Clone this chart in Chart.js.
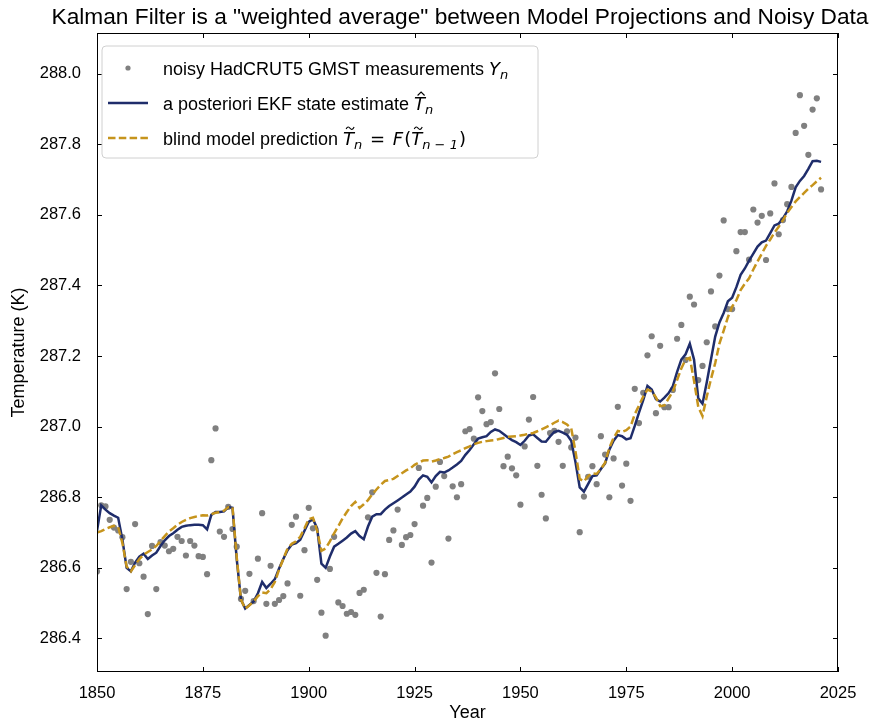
<!DOCTYPE html>
<html>
<head>
<meta charset="utf-8">
<script src="https://cdn.jsdelivr.net/npm/chart.js@4.4.1/dist/chart.umd.min.js"></script>
<style>
  html, body { margin: 0; padding: 0; background: #fff; }
</style>
</head>
<body>
<canvas id="kalmanChart" width="880" height="724"></canvas>
<script>
// ===============================
// data
// ===============================
const firstYear = 1850;

// noisy HadCRUT5 GMST measurements (K), 1850..2021
const measurements = [
  286.590, 286.777, 286.774, 286.736, 286.714, 286.706, 286.687, 286.540, 286.617, 286.724,
  286.613, 286.575, 286.469, 286.662, 286.540, 286.673, 286.663, 286.647, 286.654, 286.688,
  286.676, 286.635, 286.676, 286.663, 286.633, 286.631, 286.582, 286.905, 286.995, 286.703,
  286.688, 286.773, 286.710, 286.660, 286.512, 286.535, 286.583, 286.506, 286.626, 286.755,
  286.498, 286.606, 286.498, 286.509, 286.520, 286.556, 286.722, 286.745, 286.521, 286.650,
  286.770, 286.712, 286.566, 286.473, 286.408, 286.597, 286.688, 286.502, 286.492, 286.470,
  286.475, 286.467, 286.529, 286.538, 286.743, 286.814, 286.586, 286.462, 286.582, 286.679,
  286.706, 286.765, 286.665, 286.687, 286.693, 286.724, 286.883, 286.776, 286.798, 286.615,
  286.830, 286.900, 286.860, 286.683, 286.831, 286.800, 286.837, 286.987, 286.993, 286.966,
  287.083, 287.044, 287.007, 287.013, 287.151, 287.050, 286.888, 286.915, 286.882, 286.862,
  286.779, 286.944, 287.020, 287.084, 286.889, 286.807, 286.740, 286.982, 286.988, 286.957,
  286.889, 286.987, 286.941, 286.969, 286.701, 286.802, 286.858, 286.888, 286.837, 286.973,
  286.921, 286.800, 286.910, 287.056, 286.833, 286.895, 286.790, 287.107, 287.010, 287.096,
  287.202, 287.256, 287.038, 287.229, 287.055, 287.055, 287.104, 287.249, 287.288, 287.189,
  287.368, 287.346, 287.132, 287.172, 287.239, 287.383, 287.284, 287.428, 287.584, 287.333,
  287.333, 287.497, 287.551, 287.551, 287.473, 287.615, 287.578, 287.597, 287.472, 287.604,
  287.689, 287.545, 287.585, 287.630, 287.679, 287.832, 287.939, 287.852, 287.770, 287.898,
  287.930, 287.672
];

// a posteriori EKF state estimate
const ekfEstimate = [
  286.705, 286.777, 286.765, 286.755, 286.748, 286.742, 286.680, 286.600, 286.590, 286.615,
  286.632, 286.640, 286.625, 286.635, 286.643, 286.662, 286.678, 286.690, 286.698, 286.708,
  286.716, 286.719, 286.721, 286.722, 286.722, 286.721, 286.709, 286.750, 286.758, 286.758,
  286.760, 286.772, 286.770, 286.625, 286.510, 286.485, 286.495, 286.505, 286.528, 286.560,
  286.543, 286.555, 286.568, 286.598, 286.625, 286.650, 286.666, 286.670, 286.680, 286.705,
  286.730, 286.738, 286.712, 286.612, 286.600, 286.632, 286.660, 286.668, 286.677, 286.686,
  286.697, 286.704, 286.690, 286.681, 286.717, 286.745, 286.752, 286.752, 286.765, 286.775,
  286.783, 286.791, 286.799, 286.808, 286.816, 286.830, 286.850, 286.862, 286.858, 286.842,
  286.860, 286.872, 286.870, 286.876, 286.884, 286.893, 286.903, 286.920, 286.934, 286.950,
  286.966, 286.970, 286.973, 286.985, 286.992, 286.988, 286.979, 286.970, 286.962, 286.956,
  286.948, 286.960, 286.975, 286.978, 286.968, 286.958, 286.957, 286.972, 286.985, 286.988,
  286.983, 286.977, 286.960, 286.900, 286.828, 286.816, 286.838, 286.860, 286.862, 286.880,
  286.896, 286.935, 286.960, 286.976, 286.973, 286.964, 286.967, 287.002, 287.040, 287.075,
  287.115, 287.105, 287.078, 287.071, 287.082, 287.095, 287.115, 287.155, 287.190, 287.205,
  287.235, 287.190, 287.080, 287.065, 287.125, 287.190, 287.255, 287.295, 287.322, 287.355,
  287.365, 287.395, 287.430, 287.448, 287.470, 287.490, 287.510, 287.522, 287.527, 287.548,
  287.570, 287.575, 287.590, 287.610, 287.640, 287.678, 287.696, 287.710, 287.730, 287.752,
  287.753, 287.750
];

// blind model prediction
const modelPrediction = [
  286.700, 286.704, 286.710, 286.715, 286.719, 286.716, 286.670, 286.604, 286.590, 286.608,
  286.625, 286.637, 286.645, 286.652, 286.662, 286.676, 286.690, 286.703, 286.712, 286.722,
  286.730, 286.736, 286.741, 286.744, 286.747, 286.749, 286.748, 286.752, 286.756, 286.758,
  286.762, 286.772, 286.772, 286.630, 286.510, 286.484, 286.494, 286.505, 286.520, 286.530,
  286.528, 286.540, 286.560, 286.595, 286.625, 286.655, 286.668, 286.675, 286.688, 286.712,
  286.738, 286.742, 286.705, 286.648, 286.655, 286.675, 286.698, 286.718, 286.740, 286.758,
  286.775, 286.787, 286.770, 286.780, 286.792, 286.808, 286.822, 286.835, 286.846, 286.849,
  286.852, 286.860, 286.868, 286.876, 286.882, 286.892, 286.898, 286.904, 286.905, 286.901,
  286.904, 286.908, 286.911, 286.915, 286.922, 286.928, 286.933, 286.939, 286.944, 286.950,
  286.954, 286.957, 286.959, 286.961, 286.962, 286.965, 286.968, 286.971, 286.972, 286.973,
  286.975, 286.977, 286.980, 286.982, 286.987, 286.992, 286.998, 287.004, 287.011, 287.017,
  287.013, 287.006, 286.995, 286.930, 286.852, 286.845, 286.860, 286.868, 286.866, 286.880,
  286.898, 286.940, 286.968, 286.988, 286.985, 286.990, 287.000, 287.035, 287.060, 287.085,
  287.105, 287.100, 287.083, 287.058, 287.060, 287.080, 287.100, 287.132, 287.165, 287.190,
  287.195, 287.130, 287.056, 287.030, 287.085, 287.135, 287.180, 287.235, 287.272, 287.310,
  287.340, 287.358, 287.387, 287.405, 287.420, 287.445, 287.468, 287.490, 287.512, 287.530,
  287.550, 287.566, 287.585, 287.605, 287.622, 287.638, 287.650, 287.662, 287.674, 287.684,
  287.695, 287.705
];

const xTicks = [1850, 1875, 1900, 1925, 1950, 1975, 2000, 2025];
const yTicks = [286.4, 286.6, 286.8, 287.0, 287.2, 287.4, 287.6, 287.8, 288.0];

// ===============================
// styles
// ===============================
const NAVY = "#1f2d6b";
const GOLD = "#c6941c";
const DOT = "#808080";
const TXT = '"Liberation Sans", Arial, sans-serif';
const MATH = '"DejaVu Sans", sans-serif';

function toPoints(arr) {
    return arr.map((v, i) => ({ x: firstYear + i, y: v }));
}

// draws a row of text runs (plain / italic / subscript, with hat or tilde)
function drawRuns(ctx, x, y, runs) {
    for (const r of runs) {
        ctx.font = r.font;
        const w = ctx.measureText(r.t).width;
        ctx.fillText(r.t, x, y + (r.dy || 0));
        if (r.accent) {
            const cx = x + w / 2 + 1.5;
            const top = y - 17;
            ctx.beginPath();
            ctx.lineWidth = 1.1;
            ctx.strokeStyle = "#000";
            if (r.accent === "hat") {
                ctx.moveTo(cx - 3.5, top + 3);
                ctx.lineTo(cx, top - 0.5);
                ctx.lineTo(cx + 3.5, top + 3);
            } else {
                ctx.moveTo(cx - 4, top + 1.5);
                ctx.bezierCurveTo(cx - 2.5, top - 1.5, cx - 1, top - 0.5, cx, top + 0.8);
                ctx.bezierCurveTo(cx + 1, top + 2.2, cx + 2.5, top + 2.8, cx + 4, top - 0.5);
            }
            ctx.stroke();
        }
        x += w + (r.gap || 0);
    }
}

// ===============================
// frame, inward ticks, titles, legend
// ===============================
const decorPlugin = {
    id: "decor",
    afterDraw(chart) {
        const { ctx, chartArea: a, scales } = chart;
        const tl = 5;
        ctx.save();
        ctx.strokeStyle = "#000";
        ctx.lineWidth = 1;
        ctx.strokeRect(a.left + 0.5, a.top + 0.5, a.right - a.left - 1, a.bottom - a.top - 1);

        ctx.beginPath();
        xTicks.forEach(v => {
            const px = Math.round(scales.x.getPixelForValue(v)) + 0.5;
            ctx.moveTo(px, a.bottom); ctx.lineTo(px, a.bottom - tl);
            ctx.moveTo(px, a.top); ctx.lineTo(px, a.top + tl);
        });
        yTicks.forEach(v => {
            const py = Math.round(scales.y.getPixelForValue(v)) + 0.5;
            ctx.moveTo(a.left, py); ctx.lineTo(a.left + tl, py);
            ctx.moveTo(a.right, py); ctx.lineTo(a.right - tl, py);
        });
        ctx.stroke();

        // title + axis titles
        ctx.fillStyle = "#000";
        ctx.textAlign = "center";
        ctx.textBaseline = "middle";
        ctx.font = "22.7px " + TXT;
        ctx.fillText('Kalman Filter is a "weighted average" between Model Projections and Noisy Data', 460, 18);
        ctx.font = "18px " + TXT;
        ctx.fillText("Year", (a.left + a.right) / 2, 713);
        ctx.save();
        ctx.translate(19, (a.top + a.bottom) / 2);
        ctx.rotate(-Math.PI / 2);
        ctx.fillText("Temperature (K)", 0, 0);
        ctx.restore();

        // legend box
        const bx = 102, by = 46, bw = 436, bh = 112, r = 4;
        ctx.beginPath();
        ctx.moveTo(bx + r, by);
        ctx.arcTo(bx + bw, by, bx + bw, by + bh, r);
        ctx.arcTo(bx + bw, by + bh, bx, by + bh, r);
        ctx.arcTo(bx, by + bh, bx, by, r);
        ctx.arcTo(bx, by, bx + bw, by, r);
        ctx.closePath();
        ctx.fillStyle = "rgba(255,255,255,0.8)";
        ctx.fill();
        ctx.lineWidth = 1;
        ctx.strokeStyle = "#d0d0d0";
        ctx.stroke();

        const rows = [68, 103, 138];
        // markers
        ctx.fillStyle = DOT;
        ctx.beginPath();
        ctx.arc(128, rows[0], 2.6, 0, Math.PI * 2);
        ctx.fill();
        ctx.lineWidth = 2.5;
        ctx.strokeStyle = NAVY;
        ctx.beginPath(); ctx.moveTo(108, rows[1]); ctx.lineTo(148, rows[1]); ctx.stroke();
        ctx.strokeStyle = GOLD;
        ctx.setLineDash([7.5, 3.3]);
        ctx.beginPath(); ctx.moveTo(108, rows[2]); ctx.lineTo(148, rows[2]); ctx.stroke();
        ctx.setLineDash([]);

        // legend texts
        ctx.fillStyle = "#000";
        ctx.textAlign = "left";
        ctx.textBaseline = "alphabetic";
        const plain = "18px " + TXT;
        const it = "italic 18px " + MATH;
        const sub = "italic 13px " + MATH;
        const mrm = "18px " + MATH;
        const base = 6.5;
        drawRuns(ctx, 163, rows[0] + base, [
            { t: "noisy HadCRUT5 GMST measurements ", font: plain },
            { t: "Y", font: it },
            { t: "n", font: sub, dy: 4 }
        ]);
        drawRuns(ctx, 163, rows[1] + base, [
            { t: "a posteriori EKF state estimate ", font: plain },
            { t: "T", font: it, accent: "hat" },
            { t: "n", font: sub, dy: 4 }
        ]);
        drawRuns(ctx, 163, rows[2] + base, [
            { t: "blind model prediction ", font: plain },
            { t: "T", font: it, accent: "tilde" },
            { t: "n", font: sub, dy: 4, gap: 2 },
            { t: " = ", font: mrm, gap: 2 },
            { t: "F", font: it, gap: 1 },
            { t: "(", font: mrm },
            { t: "T", font: it, accent: "tilde" },
            { t: "n \u2212 1", font: sub, dy: 4, gap: 1 },
            { t: ")", font: mrm }
        ]);
        ctx.restore();
    }
};

// ===============================
// chart
// ===============================
new Chart(document.getElementById("kalmanChart"), {
    type: "scatter",
    data: {
        datasets: [
            {
                label: "blind model prediction",
                data: toPoints(modelPrediction),
                showLine: true,
                borderColor: GOLD,
                borderWidth: 2.5,
                borderDash: [8, 3.5],
                pointRadius: 0,
                tension: 0,
                order: 0
            },
            {
                label: "a posteriori EKF state estimate",
                data: toPoints(ekfEstimate),
                showLine: true,
                borderColor: NAVY,
                borderWidth: 2.5,
                pointRadius: 0,
                tension: 0,
                order: 1
            },
            {
                label: "noisy HadCRUT5 GMST measurements",
                data: toPoints(measurements),
                showLine: false,
                pointRadius: 3.1,
                pointBorderWidth: 0,
                pointBackgroundColor: DOT,
                order: 2
            }
        ]
    },
    options: {
        responsive: false,
        animation: false,
        devicePixelRatio: 1,
        layout: { padding: { top: 33, right: 42, left: 0, bottom: 0 } },
        plugins: { legend: { display: false }, tooltip: { enabled: false } },
        scales: {
            x: {
                type: "linear",
                min: 1850,
                max: 2025,
                afterBuildTicks: s => { s.ticks = xTicks.map(v => ({ value: v })); },
                afterFit: s => { s.height = 52; },
                grid: { display: false },
                border: { display: false },
                ticks: { color: "#000", font: { family: TXT, size: 16.5 }, padding: 4, maxRotation: 0, callback: v => String(v) }
            },
            y: {
                type: "linear",
                min: 286.305,
                max: 288.115,
                afterBuildTicks: s => { s.ticks = yTicks.map(v => ({ value: v })); },
                afterFit: s => { s.width = 97; },
                grid: { display: false },
                border: { display: false },
                ticks: { color: "#000", font: { family: TXT, size: 16.5 }, padding: 8, callback: v => v.toFixed(1) }
            }
        }
    },
    plugins: [decorPlugin]
});
</script>
</body>
</html>
